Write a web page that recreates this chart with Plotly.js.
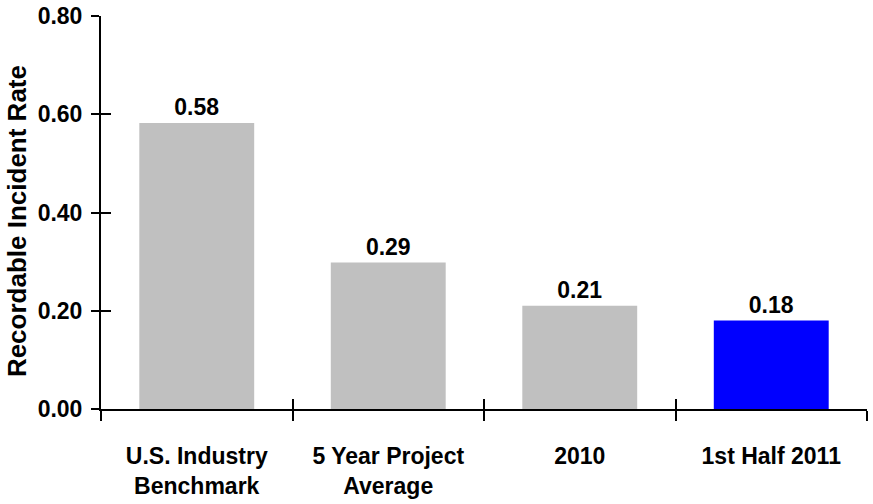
<!DOCTYPE html>
<html>
<head>
<meta charset="utf-8">
<script src="https://cdn.plot.ly/plotly-3.0.1.min.js"></script>
<style>html,body{margin:0;padding:0;background:#fff}#chart{width:873px;height:504px}</style>
</head>
<body>
<div id="chart"></div>
<script>
const categories = ["U.S. Industry<br>Benchmark", "5 Year Project<br>Average", "2010", "1st Half 2011"];
const values = [0.582, 0.298, 0.21, 0.18];
const valueLabels = ["0.58", "0.29", "0.21", "0.18"];
const barColors = ["#C0C0C0", "#C0C0C0", "#C0C0C0", "#0000FF"];
const yTitle = "Recordable Incident Rate";

const FONT = "Liberation Sans, Arial, sans-serif";
const fontB = {family: FONT, size: 23, color: "#000", weight: "bold"};

const traces = [
  {
    type: "bar", x: categories, y: values,
    marker: {color: barColors, line: {width: 0}},
    text: valueLabels, textposition: "outside", cliponaxis: false,
    textfont: fontB, hoverinfo: "skip"
  },
  {
    type: "bar", x: categories, y: values, xaxis: "x2", yaxis: "y2",
    marker: {color: "rgba(0,0,0,0)"}, hoverinfo: "skip", showlegend: false
  }
];

const layout = {
  width: 873, height: 504,
  margin: {l: 101, r: 6, t: 15.5, b: 94.7},
  paper_bgcolor: "#fff", plot_bgcolor: "#fff",
  showlegend: false, bargap: 0.4,
  font: {family: FONT, color: "#000"},
  xaxis: {
    type: "category", range: [-0.5, 3.5], tickson: "boundaries",
    ticks: "outside", ticklen: 10, tickwidth: 2, tickcolor: "#000",
    showline: true, linewidth: 2, linecolor: "#000", showgrid: false,
    tickfont: fontB, ticklabelstandoff: 25
  },
  yaxis: {
    range: [0, 0.8], dtick: 0.2, tick0: 0, tickformat: ".2f",
    ticks: "outside", ticklen: 8, tickwidth: 2, tickcolor: "#000",
    showline: true, linewidth: 2, linecolor: "#000", showgrid: false, zeroline: false,
    tickfont: fontB, ticklabelstandoff: 4
  },
  xaxis2: {
    type: "category", range: [-0.5, 3.5], overlaying: "x", anchor: "y2", tickson: "boundaries",
    ticks: "inside", ticklen: 10, tickwidth: 2, tickcolor: "#000",
    showticklabels: false, showline: false, showgrid: false
  },
  yaxis2: {
    range: [0, 0.8], dtick: 0.2, tick0: 0, overlaying: "y", anchor: "x2", side: "left",
    ticks: "inside", ticklen: 10, tickwidth: 2, tickcolor: "#000",
    showticklabels: false, showline: false, showgrid: false, zeroline: false
  },
  annotations: [{
    text: yTitle, xref: "paper", yref: "paper", x: -0.1097, y: 0.478,
    xanchor: "center", yanchor: "middle", textangle: -90, showarrow: false,
    font: {family: FONT, size: 26, color: "#000", weight: "bold"}
  }]
};

Plotly.newPlot("chart", traces, layout, {staticPlot: true, displayModeBar: false});
</script>
</body>
</html>
